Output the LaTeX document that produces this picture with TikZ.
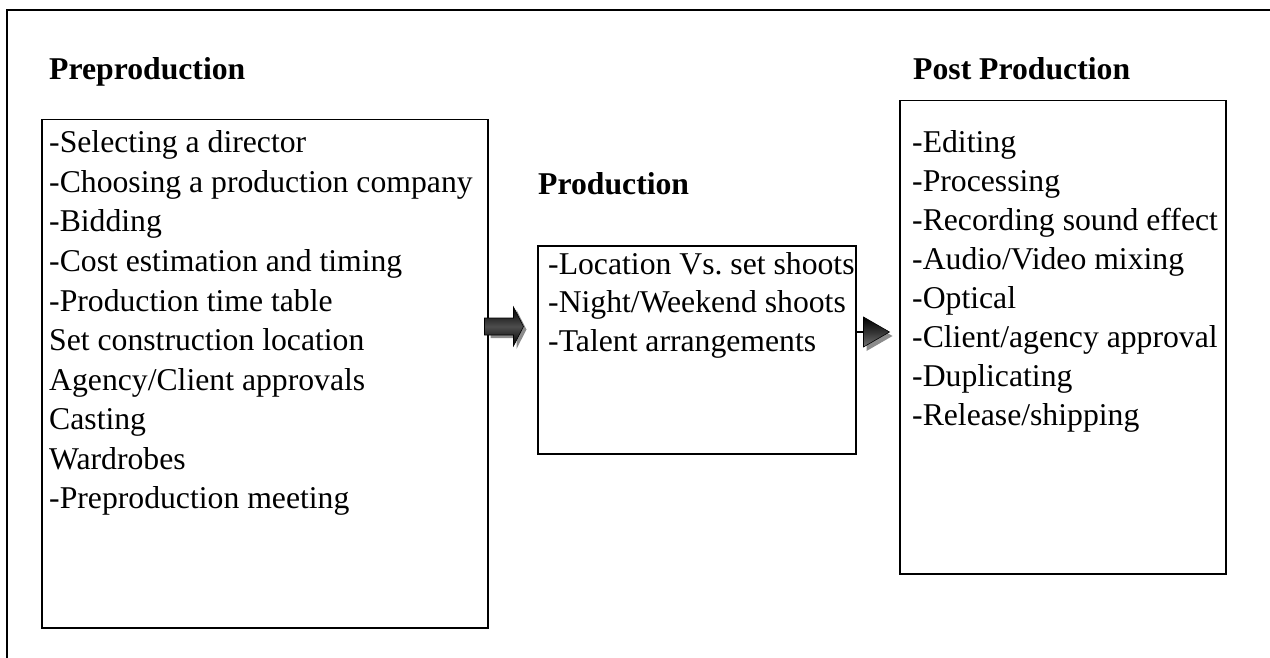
\documentclass[tikz,border=0pt]{standalone}
\usepackage{fontspec}
\setmainfont{Liberation Serif}
\usetikzlibrary{calc}
\frenchspacing
\begin{document}
\begin{tikzpicture}[x=1pt,y=-1pt,
  box/.style={draw, line width=1.5pt, inner sep=0pt, anchor=north west},
  txt/.style={anchor=base west, inner sep=0pt, font=\fontsize{31.7}{38}\selectfont},
  head/.style={anchor=base west, inner sep=0pt, font=\fontsize{31.7}{38}\selectfont\bfseries},
  blk/.style={draw=black, line width=0.6pt, shading=axis, top color=black, bottom color=black, middle color=black!70},
  shd/.style={fill=black!45, draw=none}]
\useasboundingbox (0,0) rectangle (1270,658);
% outer frame
\coordinate (ftr) at (1270,10);
\coordinate (ftl) at (7,10);
\coordinate (fbl) at (7,658);
\draw[line width=1.5pt] (ftr) -- (ftl) -- (fbl);

% boxes
\node[box, minimum width=446pt, minimum height=508pt] (pre) at (41,119) {};
\node[box, minimum width=318pt, minimum height=208pt] (prod) at (537,245) {};
\node[box, minimum width=326pt, minimum height=473pt] (post) at (899,100) {};

% headings
\node[head] (hpre) at (49,80) {Preproduction};
\node[head] (hprod) at (538,194) {Production};
\node[head] (hpost) at (913,80) {Post Production};

% preproduction items
\foreach \t [count=\i from 0] in {{-Selecting a director},{-Choosing a production company},{-Bidding},{-Cost estimation and timing},{-Production time table},{Set construction location},{Agency/Client approvals},{Casting},{Wardrobes},{-Preproduction meeting}}
  \node[txt] (pre\i) at (49,{153+39.5*\i}) {\t};

% production items
\foreach \t [count=\i from 0] in {{-Location Vs. set shoots},{-Night/Weekend shoots},{-Talent arrangements}}
  \node[txt] (prod\i) at (548,{274+38.8*\i}) {\t};

% post production items
\foreach \t [count=\i from 0] in {{-Editing},{-Processing},{-Recording sound effect},{-Audio/Video mixing},{-Optical},{-Client/agency approval},{-Duplicating},{-Release/shipping}}
  \node[txt] (post\i) at (912,{153+38.9*\i}) {\t};

% arrow 1: block arrow from pre to prod
\coordinate (a1) at (pre.east |- 0,326.5);
\fill[shd] ($(a1)+(3,3)$) ++(-1,-8.5) -- ++(26,0) -- ++(0,-11) -- ++(10,19.5) -- ++(-10,19.5) -- ++(0,-11) -- ++(-26,0) -- cycle;
\path[blk] (a1) ++(-4,-8.5) -- ++(29,0) -- ++(0,-11) -- ++(10,19.5) -- ++(-10,19.5) -- ++(0,-11) -- ++(-29,0) -- cycle;

% arrow 2: line with triangular head from prod to post
\coordinate (a2) at (prod.east |- 0,332);
\coordinate (a2b) at ($(a2)+(7,0)$);
\draw[line width=1.5pt] (a2) -- (a2b);
\fill[shd] ($(a2b)+(3,4)$) ++(0,-15) -- ++(26,15) -- ++(-26,15) -- cycle;
\path[blk, top color=black, bottom color=black!55, middle color=black!80] (a2b) ++(0,-15) -- ++(26,15) -- ++(-26,15) -- cycle;
\end{tikzpicture}
\end{document}
